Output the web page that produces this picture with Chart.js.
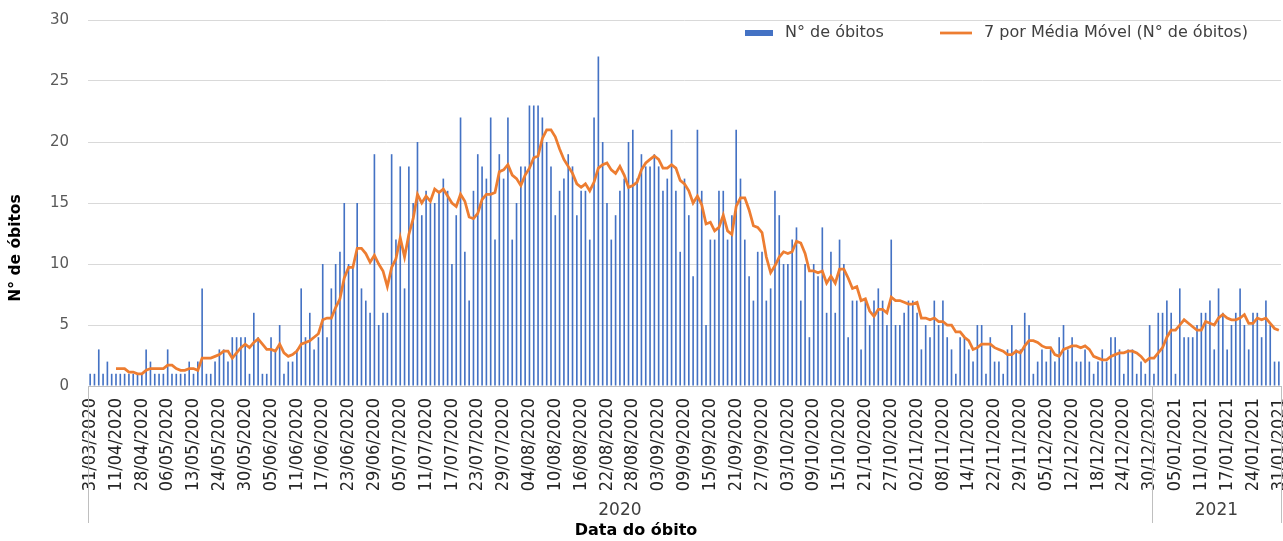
<!DOCTYPE html>
<html lang="pt">
<head>
<meta charset="utf-8">
<title>Óbitos por data</title>
<script src="https://cdn.jsdelivr.net/npm/chart.js@4/dist/chart.umd.min.js"></script>
<style>
  html, body { margin: 0; padding: 0; background: #fff; }
  #wrap { position: relative; width: 1283px; height: 541px; }
</style>
</head>
<body>
<div id="wrap"><canvas id="grafico"></canvas></div>
<script>
// Rótulos visíveis do eixo X (um a cada 6 categorias)
const TICK_DATES = [
  '31/03/2020', '11/04/2020', '28/04/2020', '06/05/2020', '13/05/2020', '24/05/2020',
  '30/05/2020', '05/06/2020', '11/06/2020', '17/06/2020', '23/06/2020', '29/06/2020',
  '05/07/2020', '11/07/2020', '17/07/2020', '23/07/2020', '29/07/2020', '04/08/2020',
  '10/08/2020', '16/08/2020', '22/08/2020', '28/08/2020', '03/09/2020', '09/09/2020',
  '15/09/2020', '21/09/2020', '27/09/2020', '03/10/2020', '09/10/2020', '15/10/2020',
  '21/10/2020', '27/10/2020', '02/11/2020', '08/11/2020', '14/11/2020', '22/11/2020',
  '29/11/2020', '05/12/2020', '12/12/2020', '18/12/2020', '24/12/2020', '30/12/2020',
  '05/01/2021', '11/01/2021', '17/01/2021', '24/01/2021', '31/01/2021',
];
const TICK_EVERY = 6;

// N° de óbitos por dia (apenas dias com registro)
const OBITOS = [
  1, 1, 3, 1, 2, 1, 1, 1, 1, 1, 1, 1, 1, 3, 2, 1, 1, 1, 3, 1, 1, 1, 1, 2, 1,
  2, 8, 1, 1, 2, 3, 3, 2, 4, 4, 4, 4, 1, 6, 4, 1, 1, 4, 3, 5, 1, 2, 2, 3, 8, 4,
  6, 3, 4, 10, 4, 8, 10, 11, 15, 10, 10, 15, 8, 7, 6, 19, 5, 6, 6, 19, 12, 18, 8, 18,
  15, 20, 14, 16, 15, 15, 16, 17, 16, 10, 14, 22, 11, 7, 16, 19, 18, 17, 22, 12, 19, 17, 22, 12, 15, 18,
  18, 23, 23, 23, 22, 20, 18, 14, 16, 17, 19, 18, 14, 16, 16, 12, 22, 27, 20, 15, 12, 14, 16, 17, 20,
  21, 17, 19, 18, 18, 19, 18, 16, 17, 21, 16, 11, 17, 14, 9, 21, 16, 5, 12, 12, 16, 16, 12, 14, 21,
  17, 12, 9, 7, 11, 11, 7, 8, 16, 14, 10, 10, 12, 13, 7, 10, 4, 10, 9, 13, 6, 11, 6, 12, 10,
  4, 7, 7, 3, 7, 5, 7, 8, 7, 5, 12, 5, 5, 6, 7, 7, 6, 3, 5, 4, 7, 5, 7, 4, 3,
  1, 4, 4, 3, 2, 5, 5, 1, 4, 2, 2, 1, 3, 5, 3, 3, 6, 5, 1, 2, 3, 2, 3, 2, 4,
  5, 3, 4, 2, 2, 3, 2, 1, 2, 3, 2, 4, 4, 3, 1, 3, 3, 1, 2, 1, 5, 1, 6, 6, 7,
  6, 1, 8, 4, 4, 4, 5, 6, 6, 7, 3, 8, 6, 3, 5, 6, 8, 5, 3, 6, 6, 4, 7, 5, 2, 2,
];

// Agrupamento por ano (nível superior do eixo)
const YEARS = ['2020', '2021'];
const YEAR_COUNTS = [247, 30];

const MM_PERIOD = 7;

const FONT = "'DejaVu Sans', Verdana, sans-serif";
const FONT_NARROW = "'Liberation Sans Narrow', 'DejaVu Sans Condensed', sans-serif";

const categories = OBITOS.map((_, i) => (i % TICK_EVERY === 0 ? TICK_DATES[i / TICK_EVERY] : ''));

// Linha de tendência: média móvel de 7 períodos (como no Excel)
const mediaMovel = OBITOS.map((_, i) =>
  i < MM_PERIOD - 1 ? null : OBITOS.slice(i - MM_PERIOD + 1, i + 1).reduce((a, b) => a + b, 0) / MM_PERIOD
);

const decorPlugin = {
  id: 'decor',
  afterDraw(chart) {
    const { ctx, chartArea, scales } = chart;
    const x = scales.x;
    const bottom = 523;
    ctx.save();

    // divisórias do eixo de categorias em dois níveis
    ctx.strokeStyle = '#BFBFBF';
    ctx.lineWidth = 1;
    const bounds = [chartArea.left];
    let acc = 0;
    YEAR_COUNTS.forEach((n) => {
      acc += n;
      const px = acc < OBITOS.length
        ? (x.getPixelForValue(acc - 1) + x.getPixelForValue(acc)) / 2
        : chartArea.right;
      bounds.push(px);
    });
    bounds.forEach((bx) => {
      ctx.beginPath();
      ctx.moveTo(Math.round(bx) + 0.5, chartArea.bottom);
      ctx.lineTo(Math.round(bx) + 0.5, bottom);
      ctx.stroke();
    });

    ctx.fillStyle = '#404040';
    ctx.font = `17px ${FONT}`;
    ctx.textAlign = 'center';
    ctx.textBaseline = 'middle';
    YEARS.forEach((y, i) => {
      ctx.fillText(y, (bounds[i] + bounds[i + 1]) / 2, 511);
    });

    // títulos dos eixos
    ctx.fillStyle = '#000';
    ctx.font = `bold 16px ${FONT}`;
    ctx.fillText('Data do óbito', 636, 531);
    ctx.save();
    ctx.translate(16, 248);
    ctx.rotate(-Math.PI / 2);
    ctx.font = `bold 15.5px ${FONT}`;
    ctx.fillText('N° de óbitos', 0, 0);
    ctx.restore();

    // legenda
    ctx.font = `16px ${FONT}`;
    ctx.textAlign = 'left';
    ctx.fillStyle = '#4472C4';
    ctx.fillRect(745, 30, 28, 6);
    ctx.fillStyle = '#404040';
    ctx.fillText('N° de óbitos', 785, 33);
    ctx.strokeStyle = '#ED7D31';
    ctx.lineWidth = 2.75;
    ctx.beginPath();
    ctx.moveTo(940, 33);
    ctx.lineTo(972, 33);
    ctx.stroke();
    ctx.fillStyle = '#404040';
    ctx.fillText('7 por Média Móvel (N° de óbitos)', 984, 33);

    ctx.restore();
  },
};

new Chart(document.getElementById('grafico'), {
  type: 'bar',
  data: {
    labels: categories,
    datasets: [
      {
        type: 'line',
        label: '7 por Média Móvel (N° de óbitos)',
        data: mediaMovel,
        borderColor: '#ED7D31',
        borderWidth: 2.75,
        pointRadius: 0,
        tension: 0,
        order: 0,
      },
      {
        label: 'N° de óbitos',
        data: OBITOS,
        backgroundColor: '#4472C4',
        barPercentage: 0.38,
        categoryPercentage: 1,
        order: 1,
      },
    ],
  },
  options: {
    responsive: true,
    maintainAspectRatio: false,
    animation: false,
    devicePixelRatio: 1,
    layout: { padding: { left: 0, right: 2, top: 20, bottom: 0 } },
    plugins: { legend: { display: false }, tooltip: { enabled: false } },
    scales: {
      x: {
        grid: { display: false, drawTicks: false },
        border: { display: true, color: '#BFBFBF' },
        ticks: {
          autoSkip: false,
          minRotation: 90,
          maxRotation: 90,
          padding: 12,
          color: '#262626',
          font: { family: FONT_NARROW, size: 18 },
        },
        afterFit(scale) {
          scale.height = 155;
          scale.paddingLeft = 0;
          scale.paddingRight = 0;
        },
      },
      y: {
        min: 0,
        max: 30,
        ticks: { stepSize: 5, padding: 19, color: '#595959', font: { family: FONT, size: 15 } },
        grid: { color: '#D9D9D9', drawTicks: false },
        border: { display: false },
        afterFit(scale) {
          scale.width = 88;
          scale.paddingTop = 0;
          scale.paddingBottom = 0;
        },
      },
    },
  },
  plugins: [decorPlugin],
});
</script>
</body>
</html>
